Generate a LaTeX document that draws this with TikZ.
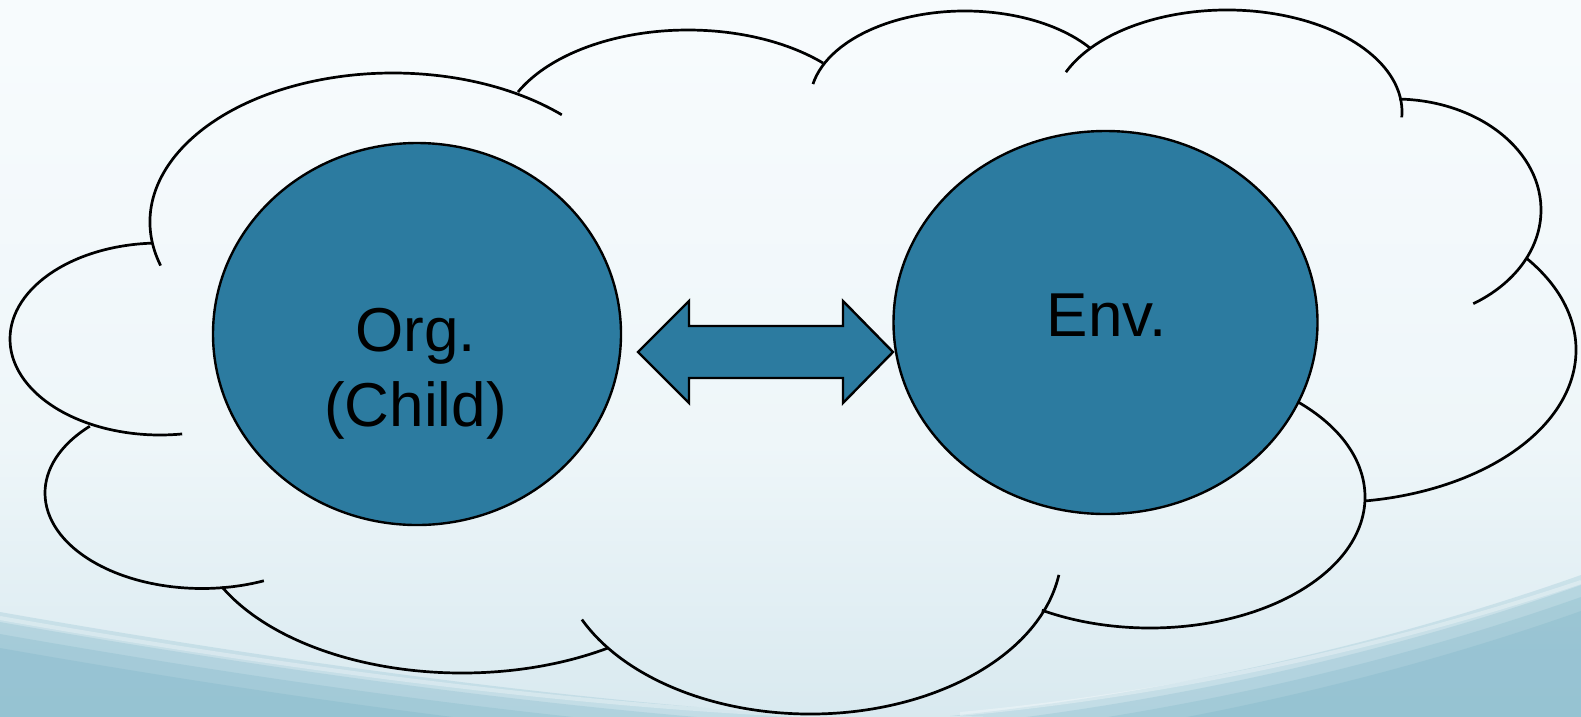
\documentclass[tikz,border=0pt]{standalone}
\usepackage{fontspec}
\setmainfont{Liberation Sans}
\definecolor{ellblue}{RGB}{44,123,160}
\definecolor{bgA}{HTML}{A4CDD9}
\definecolor{bgB}{HTML}{C4DEE7}
\definecolor{bgC}{HTML}{DAEAF0}
\definecolor{bgD}{HTML}{EEF6F9}
\definecolor{bgE}{HTML}{F7FBFD}
\definecolor{bgF}{HTML}{FAFDFE}
\definecolor{wavedark}{HTML}{6AAABF}
\pgfdeclareverticalshading{bgshade}{100bp}{color(0bp)=(bgA); color(13bp)=(bgB); color(26bp)=(bgC); color(44bp)=(bgD); color(72bp)=(bgE); color(100bp)=(bgF)}
\tikzset{
  cloudline/.style={draw=black, line width=2.7pt, line cap=butt},
  blob/.style={ellipse, draw=black, fill=ellblue, line width=2.4pt, inner sep=0pt},
  lbl/.style={font=\fontsize{62}{75}\selectfont, text=black, inner sep=0pt},
  blockarrow/.style={fill=ellblue, draw=black, line width=2.4pt, line join=miter},
  wave/.style={fill=wavedark, opacity=0.2}
}
\usetikzlibrary{shapes.geometric}
\begin{document}
\begin{tikzpicture}[x=1pt,y=-1pt]
\useasboundingbox (0,0) rectangle (1581,716);
% background
\shade[shading=bgshade] (0,0) rectangle (1581,716);
\foreach \d in {0,10,22,36} {
  \fill[wave] (0,612+\d) .. controls (250,656+\d) and (550,700+\d) .. (820,716+\d) -- (0,730) -- cycle;
  \fill[wave] (950,716+\d) .. controls (1200,690+\d) and (1420,632+\d) .. (1581,575+\d) -- (1581,730) -- cycle;
}
\draw[white, opacity=0.3, line width=4pt] (0,618) .. controls (250,662) and (550,705) .. (820,716);
\draw[white, opacity=0.3, line width=4pt] (960,714) .. controls (1200,692) and (1420,636) .. (1581,582);
% cloud
\draw[cloudline] ([shift={(163:243 and 149)}]393,222) arc[start angle=163,end angle=314,x radius=243,y radius=149];
\draw[cloudline] ([shift={(205.7:188.7 and 109.5)}]688,139.5) arc[start angle=205.7,end angle=315.7,x radius=188.7,y radius=109.5];
\draw[cloudline] ([shift={(191:154.9 and 90.3)}]965,101.3) arc[start angle=191,end angle=324,x radius=154.9,y radius=90.3];
\draw[cloudline] ([shift={(203:175 and 102)}]1227,112) arc[start angle=203,end angle=363,x radius=175,y radius=102];
\draw[cloudline] ([shift={(-88.4:146 and 111)}]1395,210) arc[start angle=-88.4,end angle=57.6,x radius=146,y radius=111];
\draw[cloudline] ([shift={(-37:246 and 152.5)}]1330,350) arc[start angle=-37,end angle=82,x radius=246,y radius=152.5];
\draw[cloudline] ([shift={(-48:215 and 131)}]1150,497) arc[start angle=-48,end angle=120.2,x radius=215,y radius=131];
\draw[cloudline] ([shift={(8.6:251.7 and 163.6)}]810,550.4) arc[start angle=8.6,end angle=155,x radius=251.7,y radius=163.6];
\draw[cloudline] ([shift={(57:267.8 and 154.7)}]462,518.3) arc[start angle=57,end angle=153.7,x radius=267.8,y radius=154.7];
\draw[cloudline] ([shift={(224.4:157 and 95.5)}]202,493) arc[start angle=224.4,end angle=66.8,x radius=157,y radius=95.5];
\draw[cloudline] ([shift={(267:150 and 96)}]160,339) arc[start angle=267,end angle=81.5,x radius=150,y radius=96];
% ellipses
\node[blob, minimum width=408, minimum height=382] (org) at (417,334) {};
\node[blob, minimum width=424, minimum height=383] (env) at (1105.5,322.5) {};
\node[lbl, anchor=base] (orgA) at (415.5,351) {Org.};
\node[lbl, anchor=base] (orgB) at (415.5,426) {(Child)};
\node[lbl, anchor=base] (envA) at (1106.5,336) {Env.};
% double block arrow
\coordinate (lt) at (638,352);
\coordinate (rt) at (893,352);
\filldraw[blockarrow] (lt) -- (689,301) -- (689,326) -- (843,326) -- (843,301) -- (rt) -- (843,403) -- (843,378) -- (689,378) -- (689,403) -- cycle;
\end{tikzpicture}
\end{document}
